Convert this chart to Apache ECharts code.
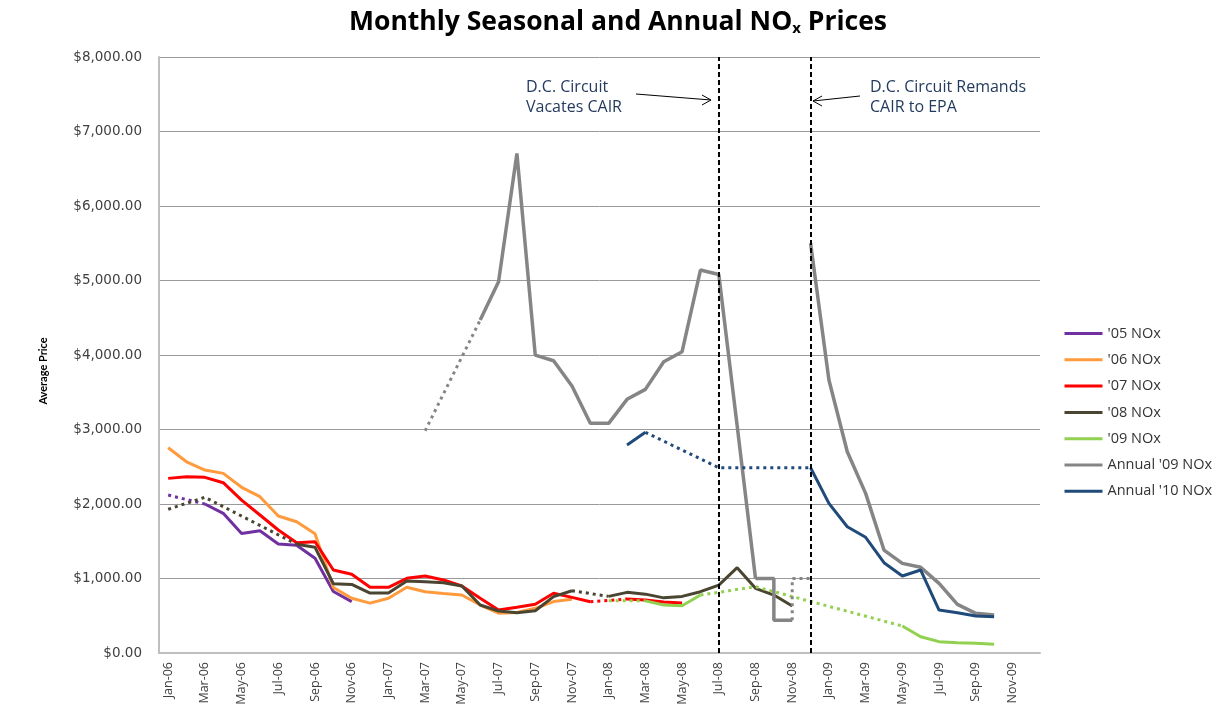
<!DOCTYPE html>
<html>
<head>
<meta charset="utf-8">
<title>Monthly Seasonal and Annual NOx Prices</title>
<script src="https://cdn.jsdelivr.net/npm/echarts@6/dist/echarts.min.js"></script>
<style>
  html, body { margin: 0; padding: 0; background: #fff; }
  #chart { width: 1221px; height: 723px; }
</style>
</head>
<body>
<div id="chart"></div>
<script>
// month categories, Jan-06 .. Dec-09
var months = [
  'Jan-06','Feb-06','Mar-06','Apr-06','May-06','Jun-06','Jul-06','Aug-06','Sep-06','Oct-06','Nov-06','Dec-06',
  'Jan-07','Feb-07','Mar-07','Apr-07','May-07','Jun-07','Jul-07','Aug-07','Sep-07','Oct-07','Nov-07','Dec-07',
  'Jan-08','Feb-08','Mar-08','Apr-08','May-08','Jun-08','Jul-08','Aug-08','Sep-08','Oct-08','Nov-08','Dec-08',
  'Jan-09','Feb-09','Mar-09','Apr-09','May-09','Jun-09','Jul-09','Aug-09','Sep-09','Oct-09','Nov-09','Dec-09'
];

// solid runs: first month + consecutive monthly values
var nox05Start = 'Mar-06';
var nox05 = [2000, 1875, 1605, 1640, 1462, 1447, 1271, 825, 690];
var nox05Gap = [['Jan-06', 2120], ['Mar-06', 2000]];

var nox06Start = 'Jan-06';
var nox06 = [2755, 2567, 2456, 2411, 2224, 2098, 1839, 1762, 1600, 880, 735, 670,
             735, 882, 823, 800, 778, 644, 535, 545, 600, 690, 720];

var nox07Start = 'Jan-06';
var nox07 = [2344, 2366, 2358, 2286, 2053, 1852, 1651, 1480, 1494, 1114, 1056, 882,
             882, 1002, 1033, 980, 899, 734, 577, 613, 654, 801, 747, 689];
var nox07Gap = [['Dec-07', 689], ['Feb-08', 725]];
var nox07bStart = 'Feb-08';
var nox07b = [725, 711, 685, 670];

var nox08Gap1 = [['Jan-06', 1929], ['Mar-06', 2090], ['Aug-06', 1460]];
var nox08Start = 'Aug-06';
var nox08 = [1460, 1420, 930, 920, 805, 805, 966, 957, 943, 899, 644, 564, 540, 568, 756, 836];
var nox08Gap2 = [['Nov-07', 836], ['Jan-08', 760]];
var nox08bStart = 'Jan-08';
var nox08b = [760, 814, 790, 740, 760, 823, 912, 1145, 868, 778, 631];

var nox09Gap1 = [['Jan-08', 702], ['Mar-08', 700]];
var nox09Start = 'Mar-08';
var nox09 = [700, 644, 635, 778];
var nox09Gap2 = [['Jun-08', 778], ['Sep-08', 890], ['May-09', 362]];
var nox09bStart = 'May-09';
var nox09b = [362, 219, 152, 138, 130, 117];

var ann09Gap1 = [['Mar-07', 2983], ['Jun-07', 4469]];
var ann09Start = 'Jun-07';
var ann09 = [4469, 4983, 6706, 3999, 3923, 3583, 3083, 3083, 3405, 3539, 3910, 4044, 5140, 5080, 3050, 1000];
var ann09Step = [['Sep-08', 1000], ['Oct-08', 1000], ['Nov-08', 440]];
var ann09Gap2 = [['Nov-08', 440], ['Dec-08', 1000]];
var ann09bStart = 'Dec-08';
var ann09b = [5500, 3664, 2701, 2143, 1382, 1203, 1150, 935, 653, 532, 510];

var ann10Start = 'Feb-08';
var ann10 = [2791, 2962];
var ann10Gap = [['Mar-08', 2962], ['Jul-08', 2487], ['Dec-08', 2487]];
var ann10bStart = 'Dec-08';
var ann10b = [2487, 2009, 1695, 1553, 1212, 1033, 1114, 577, 541, 497, 487];

var events = ['Jul-08', 'Dec-08'];
var legendNames = ["'05 NOx", "'06 NOx", "'07 NOx", "'08 NOx", "'09 NOx", "Annual '09 NOx", "Annual '10 NOx"];

var colors = {
  "'05 NOx": '#7030a0',
  "'06 NOx": '#ff9b3d',
  "'07 NOx": '#ff0000',
  "'08 NOx": '#4a4530',
  "'09 NOx": '#92d050',
  "Annual '09 NOx": '#858585',
  "Annual '10 NOx": '#1f4a7a'
};

var FONT = '"Open Sans", Lato, sans-serif';

function run(start, values) {
  var s = months.indexOf(start);
  return values.map(function (v, k) { return [months[s + k], v]; });
}

function solid(name, data, width, extra) {
  var s = {
    name: name,
    type: 'line',
    data: data,
    symbol: 'none',
    silent: true,
    lineStyle: { color: colors[name], width: width || 3 },
    itemStyle: { color: colors[name] }
  };
  for (var k in extra) s[k] = extra[k];
  return s;
}

function dotted(name, data, extra) {
  var s = {
    name: name + ' (gap)',
    type: 'line',
    data: data,
    symbol: 'none',
    silent: true,
    lineStyle: { color: colors[name], width: 3, type: [3, 4] },
    itemStyle: { color: colors[name] }
  };
  for (var k in extra) s[k] = extra[k];
  return s;
}

var series = [
  solid("'05 NOx", run(nox05Start, nox05)),
  dotted("'05 NOx", nox05Gap),
  solid("'06 NOx", run(nox06Start, nox06)),
  solid("'07 NOx", run(nox07Start, nox07)),
  dotted("'07 NOx", nox07Gap),
  solid("'07 NOx", run(nox07bStart, nox07b)),
  solid("'08 NOx", run(nox08Start, nox08)),
  dotted("'08 NOx", nox08Gap1),
  dotted("'08 NOx", nox08Gap2),
  solid("'08 NOx", run(nox08bStart, nox08b)),
  solid("'09 NOx", run(nox09Start, nox09)),
  dotted("'09 NOx", nox09Gap1),
  dotted("'09 NOx", nox09Gap2),
  solid("'09 NOx", run(nox09bStart, nox09b)),
  solid("Annual '09 NOx", run(ann09Start, ann09), 3.5),
  dotted("Annual '09 NOx", ann09Gap1),
  solid("Annual '09 NOx", ann09Step, 3.5, { step: 'start' }),
  dotted("Annual '09 NOx", ann09Gap2, { step: 'start' }),
  solid("Annual '09 NOx", run(ann09bStart, ann09b), 3.5),
  solid("Annual '10 NOx", run(ann10Start, ann10)),
  dotted("Annual '10 NOx", ann10Gap),
  solid("Annual '10 NOx", run(ann10bStart, ann10b), 3, {
    markLine: {
      silent: true,
      symbol: 'none',
      label: { show: false },
      lineStyle: { color: '#000', width: 2, type: [5, 3] },
      data: events.map(function (e) { return { xAxis: e }; })
    }
  })
];

var chart = echarts.init(document.getElementById('chart'));
chart.setOption({
  animation: false,
  backgroundColor: '#fff',
  title: {
    text: 'Monthly Seasonal and Annual NO{sub|x} Prices',
    left: 349,
    top: 8,
    padding: 0,
    textStyle: {
      fontFamily: FONT,
      fontSize: 26.5,
      fontWeight: 'bold',
      color: '#000',
      rich: {
        sub: { fontFamily: FONT, fontSize: 15, fontWeight: 'bold', color: '#000', padding: [13, 0, 0, 0] }
      }
    }
  },
  legend: {
    orient: 'vertical',
    left: 1058,
    top: 321,
    itemWidth: 38,
    itemHeight: 14,
    itemGap: 11.3,
    data: legendNames,
    itemStyle: { opacity: 0 },
    lineStyle: { width: 3 },
    textStyle: { fontFamily: FONT, fontSize: 14.5, lineHeight: 14, color: '#333' }
  },
  grid: { left: 159, right: 181, top: 57, bottom: 70 },
  xAxis: {
    type: 'category',
    data: months,
    boundaryGap: true,
    axisLine: { lineStyle: { color: '#bfbfbf', width: 2 } },
    axisTick: { show: false },
    axisLabel: { rotate: 90, interval: 1, margin: 9, fontFamily: FONT, fontSize: 12.5, color: '#404040' },
    splitLine: { show: false }
  },
  yAxis: {
    type: 'value',
    min: 0,
    max: 8000,
    interval: 1000,
    name: 'Average Price',
    nameLocation: 'middle',
    nameGap: 110,
    nameTextStyle: { fontFamily: 'Lato, sans-serif', fontSize: 11, fontWeight: 'bold', color: '#000', padding: [0, 32, 0, 0] },
    axisLine: { show: true, lineStyle: { color: '#bfbfbf', width: 2 } },
    axisTick: { show: false },
    axisLabel: {
      margin: 17,
      fontFamily: '"DejaVu Sans", sans-serif',
      fontSize: 13.5,
      color: '#404040',
      formatter: function (v) {
        return '$' + v.toLocaleString('en-US', { minimumFractionDigits: 2, maximumFractionDigits: 2 });
      }
    },
    splitLine: { lineStyle: { color: '#9a9a9a', width: 1 } }
  },
  graphic: [
    { type: 'text', left: 526, top: 77, style: { text: 'D.C. Circuit\nVacates CAIR', fill: '#243b5e', font: '16px ' + FONT, lineHeight: 20 } },
    { type: 'line', shape: { x1: 636, y1: 94, x2: 711, y2: 100 }, style: { stroke: '#000', lineWidth: 1 } },
    { type: 'polyline', shape: { points: [[702, 95], [711, 100], [702, 105]] }, style: { stroke: '#000', fill: null, lineWidth: 1 } },
    { type: 'text', left: 870, top: 77, style: { text: 'D.C. Circuit Remands\nCAIR to EPA', fill: '#243b5e', font: '16px ' + FONT, lineHeight: 20 } },
    { type: 'line', shape: { x1: 860, y1: 96, x2: 813, y2: 101 }, style: { stroke: '#000', lineWidth: 1 } },
    { type: 'polyline', shape: { points: [[822, 96], [813, 101], [822, 106]] }, style: { stroke: '#000', fill: null, lineWidth: 1 } }
  ],
  series: series
});
</script>
</body>
</html>
